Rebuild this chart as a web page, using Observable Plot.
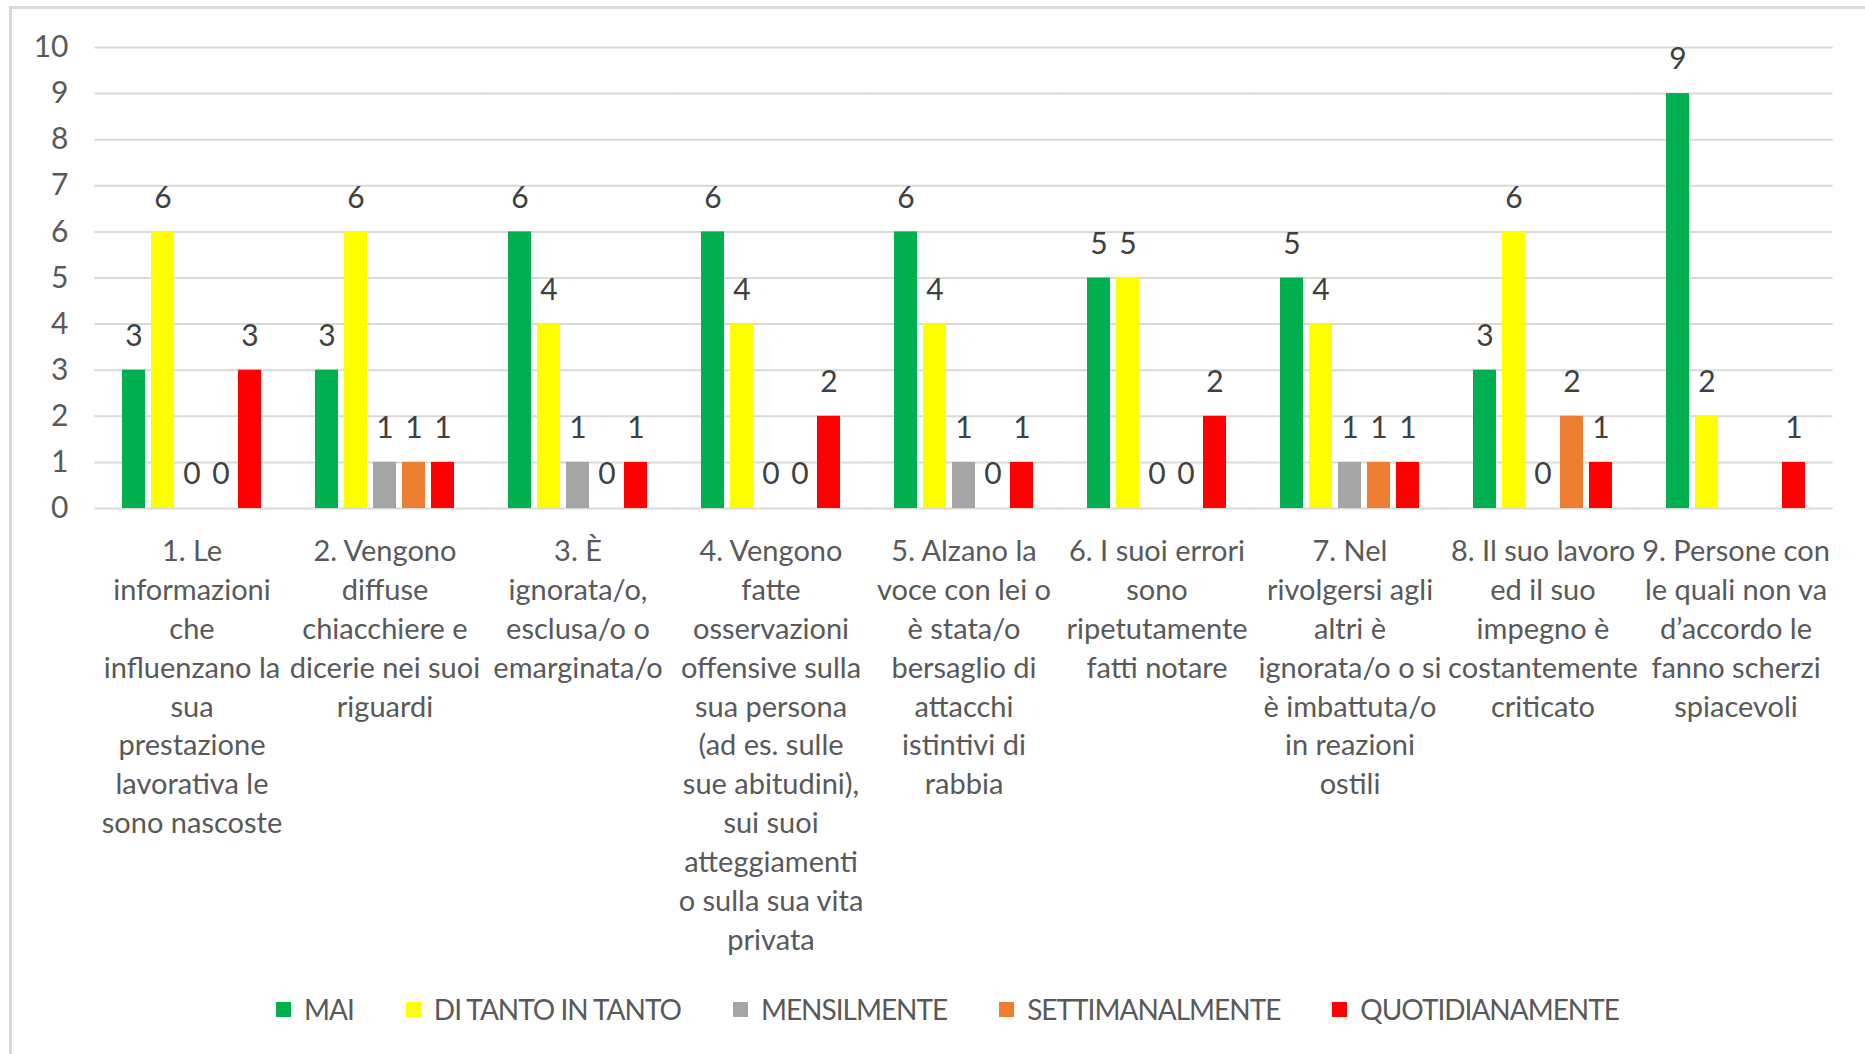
<!DOCTYPE html>
<html>
<head>
<meta charset="utf-8">
<script src="https://cdn.jsdelivr.net/npm/d3@7"></script>
<script src="https://cdn.jsdelivr.net/npm/@observablehq/plot@0.6"></script>
<style>
  html, body { margin: 0; padding: 0; background: #ffffff; }
  #wrap { position: relative; width: 1865px; height: 1054px; overflow: hidden; font-family: Lato, "Open Sans", sans-serif; }
  #frame { position: absolute; left: 9px; top: 6px; right: -10px; bottom: -10px; border-left: 3px solid #d9d9d9; border-top: 3px solid #d9d9d9; }
  #chart { position: absolute; left: 0; top: 0; }
  #legend { position: absolute; left: 0; top: 988px; width: 1895px; display: flex; justify-content: center; gap: 52px; font-size: 28px; letter-spacing: -1px; color: #595959; line-height: 42px; }
  #legend .item { display: flex; align-items: center; white-space: nowrap; }
  #legend .sw { width: 15px; height: 15px; margin-right: 13px; display: inline-block; }
</style>
</head>
<body>
<div id="wrap">
  <div id="frame"></div>
  <div id="chart"></div>
  <div id="legend"></div>
</div>
<script>
const categories = [
  "1. Le\ninformazioni\nche\ninfluenzano la\nsua\nprestazione\nlavorativa le\nsono nascoste",
  "2. Vengono\ndiffuse\nchiacchiere e\ndicerie nei suoi\nriguardi",
  "3. È\nignorata/o,\nesclusa/o o\nemarginata/o",
  "4. Vengono\nfatte\nosservazioni\noffensive sulla\nsua persona\n(ad es. sulle\nsue abitudini),\nsui suoi\natteggiamenti\no sulla sua vita\nprivata",
  "5. Alzano la\nvoce con lei o\nè stata/o\nbersaglio di\nattacchi\nistintivi di\nrabbia",
  "6. I suoi errori\nsono\nripetutamente\nfatti notare",
  "7. Nel\nrivolgersi agli\naltri è\nignorata/o o si\nè imbattuta/o\nin reazioni\nostili",
  "8. Il suo lavoro\ned il suo\nimpegno è\ncostantemente\ncriticato",
  "9. Persone con\nle quali non va\nd’accordo le\nfanno scherzi\nspiacevoli"
];
const series = ["MAI", "DI TANTO IN TANTO", "MENSILMENTE", "SETTIMANALMENTE", "QUOTIDIANAMENTE"];
const mai             = [3, 3, 6, 6, 6, 5, 5, 3, 9];
const diTantoInTanto  = [6, 6, 4, 4, 4, 5, 4, 6, 2];
const mensilmente     = [0, 1, 1, 0, 1, 0, 1, 0, null];
const settimanalmente = [0, 1, 0, 0, 0, 0, 1, 2, null];
const quotidianamente = [3, 1, 1, 2, 1, 2, 1, 1, 1];
const colors = ["#00b050", "#ffff00", "#a5a5a5", "#ed7d31", "#ff0000"];
const yTicks = [0, 1, 2, 3, 4, 5, 6, 7, 8, 9, 10];

const values = [mai, diTantoInTanto, mensilmente, settimanalmente, quotidianamente];
const data = categories.flatMap((c, i) => series.map((s, j) => ({category: c, series: s, value: values[j][i]})));

const chart = Plot.plot({
  width: 1865,
  height: 960,
  marginLeft: 94,
  marginRight: 32,
  marginTop: 47,
  marginBottom: 452,
  style: {fontFamily: "Lato, 'Open Sans', sans-serif", fontSize: "30px", color: "#595959", background: "transparent", overflow: "visible"},
  fx: {domain: categories, paddingInner: 0.26, paddingOuter: 0.13, label: null},
  x: {domain: series, paddingInner: 0.22, paddingOuter: 0, axis: null},
  y: {domain: [0, 10], axis: null},
  color: {domain: series, range: colors},
  marks: [
    Plot.ruleY(yTicks, {stroke: "#d9d9d9", strokeWidth: 2, strokeOpacity: 1, insetLeft: -25.6, insetRight: -25.6}),
    Plot.barY(data, {fx: "category", x: "series", y: "value", fill: "series"}),
    Plot.text(data.filter(d => d.value != null), {fx: "category", x: "series", y: "value", text: d => String(d.value), dy: -34, fill: "#404040", fontSize: 30}),
    Plot.axisY({ticks: yTicks, tickSize: 0, tickPadding: 52, fontSize: 30, fill: "#595959", label: null}),
    Plot.axisFx({anchor: "bottom", tickSize: 0, tickPadding: 25, lineHeight: 1.34, fontSize: 29, fill: "#595959", label: null})
  ]
});
document.getElementById("chart").appendChild(chart);

const legend = document.getElementById("legend");
series.forEach((s, i) => {
  const item = document.createElement("span");
  item.className = "item";
  const sw = document.createElement("span");
  sw.className = "sw";
  sw.style.background = colors[i];
  item.appendChild(sw);
  item.appendChild(document.createTextNode(s));
  legend.appendChild(item);
});
</script>
</body>
</html>
